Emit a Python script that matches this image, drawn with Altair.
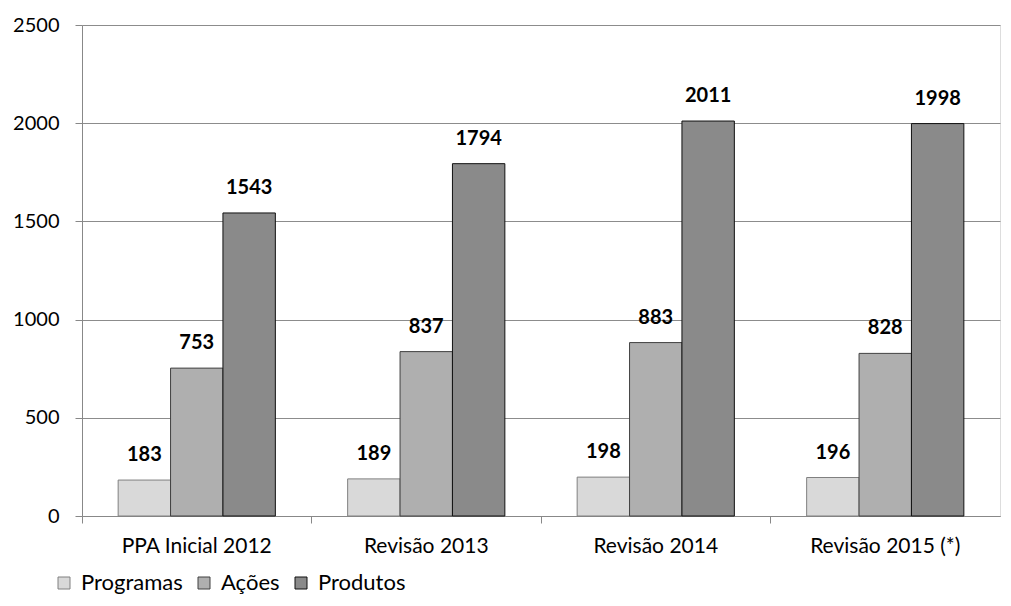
import altair as alt
import pandas as pd

categories = ["PPA Inicial 2012", "Revisão 2013", "Revisão 2014", "Revisão 2015 (*)"]
series = ["Programas", "Ações", "Produtos"]
programas = [183, 189, 198, 196]
acoes = [753, 837, 883, 828]
produtos = [1543, 1794, 2011, 1998]

rows = []
for i, c in enumerate(categories):
    for s, vals in zip(series, [programas, acoes, produtos]):
        rows.append({"cat": c, "serie": s, "valor": vals[i]})
df = pd.DataFrame(rows)

FONT = "Lato"

x = alt.X("cat:N", sort=categories, title=None,
          scale=alt.Scale(paddingInner=0, paddingOuter=0),
          axis=alt.Axis(labelAngle=0, bandPosition=0, tickSize=7, labelPadding=12,
                        labelFontSize=21, labelColor="#000", labelFont=FONT,
                        domainColor="#888", tickColor="#888", grid=False))
xo = alt.XOffset("serie:N", sort=series,
                 scale=alt.Scale(paddingInner=0, paddingOuter=0.69))
y = alt.Y("valor:Q", title=None,
          scale=alt.Scale(domain=[0, 2500], nice=False),
          axis=alt.Axis(values=[0, 500, 1000, 1500, 2000, 2500], format="d", tickSize=7,
                        labelPadding=16, labelFontSize=20, labelColor="#000", labelFont=FONT,
                        domainColor="#888", tickColor="#888", gridColor="#8c8c8c",
                        gridWidth=1))

bars = alt.Chart(df).mark_bar(strokeWidth=1).encode(
    x=x, xOffset=xo, y=y,
    color=alt.Color("serie:N", sort=series, title=None,
                    scale=alt.Scale(domain=series, range=["#d9d9d9", "#afafaf", "#8a8a8a"]),
                    legend=alt.Legend(orient="none", legendX=-29, legendY=547, direction="horizontal",
                                      symbolType="square", symbolSize=144, symbolStrokeColor="#7f7f7f",
                                      symbolStrokeWidth=1, labelFontSize=22, labelFont=FONT,
                                      labelColor="#000", columnPadding=10, labelOffset=6)),
    stroke=alt.Stroke("serie:N", sort=series,
                      scale=alt.Scale(domain=series, range=["#808080", "#404040", "#111111"]),
                      legend=None),
)

labels = alt.Chart(df).mark_text(dy=-19, baseline="alphabetic", fontWeight="bold",
                                 fontSize=20, font=FONT, color="#000").encode(
    x=x, xOffset=xo, y=y, text="valor:Q")

chart = (bars + labels).properties(
    width=918, height=491,
    autosize=alt.AutoSizeParams(type="none"),
    padding={"left": 74, "top": 17, "right": 3, "bottom": 78},
).configure_view(strokeWidth=0).configure(font=FONT)

chart.save("out.html", embed_options={"renderer": "svg", "actions": False})
